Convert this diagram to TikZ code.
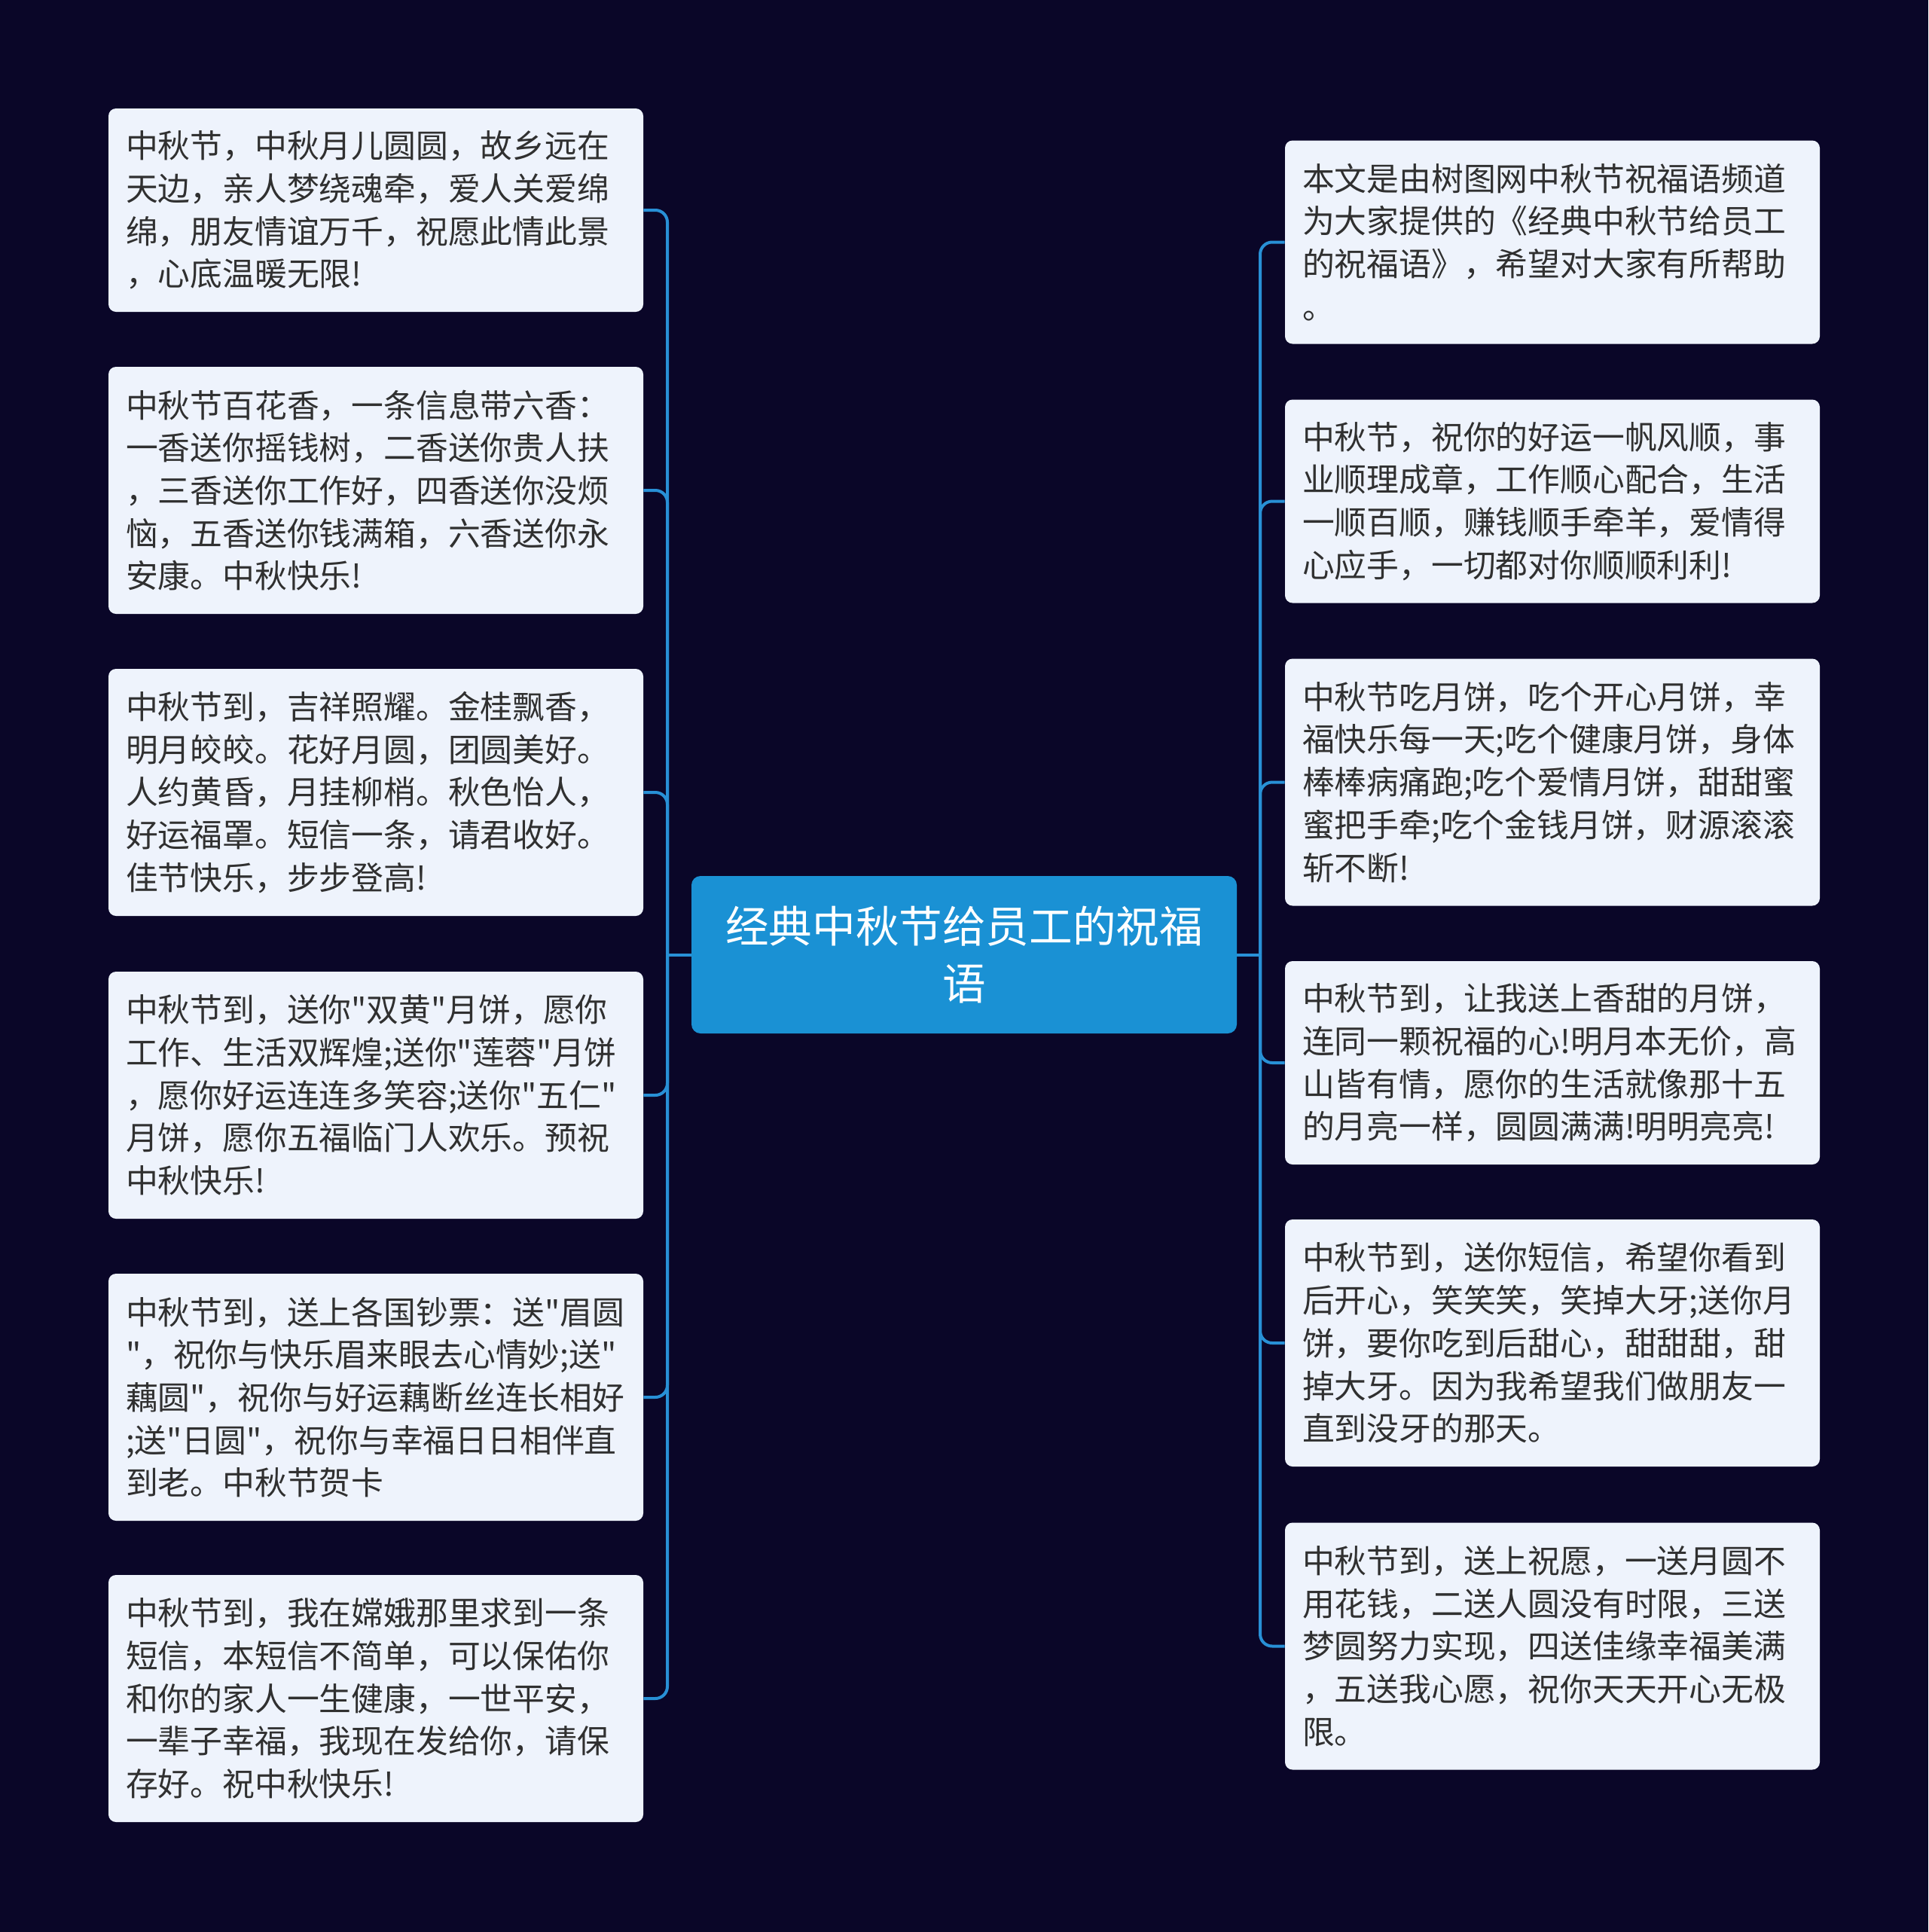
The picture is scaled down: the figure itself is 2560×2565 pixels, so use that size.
\documentclass[tikz,border=0pt]{standalone}
\usepackage{fontspec}
\setmainfont{Noto Sans CJK SC}[Ligatures=TeXOff]
\definecolor{bgc}{RGB}{10,6,40}
\definecolor{boxc}{RGB}{238,243,252}
\definecolor{centc}{RGB}{26,145,212}
\definecolor{linec}{RGB}{40,144,214}
\definecolor{txtc}{RGB}{48,48,48}
\begin{document}
\begin{tikzpicture}[x=0.5pt,y=-0.5pt,
  leaf/.style={fill=boxc, draw=none, rounded corners=5pt, text=txtc,
    text width=332pt, inner xsep=11.5pt, inner ysep=0pt, align=left,
    minimum width=355pt, font=\fontsize{21.4pt}{28.35pt}\selectfont},
  four/.style={minimum height=135pt},
  five/.style={minimum height=164pt},
  root/.style={fill=centc, draw=none, rounded corners=6pt, text=white,
    minimum width=362pt, minimum height=104.5pt, align=center,
    font=\fontsize{28.8pt}{38pt}\selectfont},
  conn/.style={draw=linec, line width=2pt, rounded corners=8pt}]
\fill[bgc] (0,0) rectangle (2560,2565);
\useasboundingbox (0,0) rectangle (2560,2565);

\node[root] (C) at (1280,1267.5) {经典中秋节给员工的祝福\\语};

\node[leaf,four] (L1) at (499,279) {中秋节，中秋月儿圆圆，故乡远在\\天边，亲人梦绕魂牵，爱人关爱绵\\绵，朋友情谊万千，祝愿此情此景\\，心底温暖无限!};
\node[leaf,five] (L2) at (499,651) {中秋节百花香，一条信息带六香：\\一香送你摇钱树，二香送你贵人扶\\，三香送你工作好，四香送你没烦\\恼，五香送你钱满箱，六香送你永\\安康。中秋快乐!};
\node[leaf,five] (L3) at (499,1052) {中秋节到，吉祥照耀。金桂飘香，\\明月皎皎。花好月圆，团圆美好。\\人约黄昏，月挂柳梢。秋色怡人，\\好运福罩。短信一条，请君收好。\\佳节快乐，步步登高!};
\node[leaf,five] (L4) at (499,1454) {中秋节到，送你"双黄"月饼，愿你\\工作、生活双辉煌;送你"莲蓉"月饼\\，愿你好运连连多笑容;送你"五仁"\\月饼，愿你五福临门人欢乐。预祝\\中秋快乐!};
\node[leaf,five] (L5) at (499,1855) {中秋节到，送上各国钞票：送"眉圆\\"，祝你与快乐眉来眼去心情妙;送"\\藕圆"，祝你与好运藕断丝连长相好\\;送"日圆"，祝你与幸福日日相伴直\\到老。中秋节贺卡};
\node[leaf,five] (L6) at (499,2255) {中秋节到，我在嫦娥那里求到一条\\短信，本短信不简单，可以保佑你\\和你的家人一生健康，一世平安，\\一辈子幸福，我现在发给你，请保\\存好。祝中秋快乐!};

\node[leaf,four] (R1) at (2061,321.5) {本文是由树图网中秋节祝福语频道\\为大家提供的《经典中秋节给员工\\的祝福语》，希望对大家有所帮助\\。};
\node[leaf,four] (R2) at (2061,665.5) {中秋节，祝你的好运一帆风顺，事\\业顺理成章，工作顺心配合，生活\\一顺百顺，赚钱顺手牵羊，爱情得\\心应手，一切都对你顺顺利利!};
\node[leaf,five] (R3) at (2061,1038.5) {中秋节吃月饼，吃个开心月饼，幸\\福快乐每一天;吃个健康月饼，身体\\棒棒病痛跑;吃个爱情月饼，甜甜蜜\\蜜把手牵;吃个金钱月饼，财源滚滚\\斩不断!};
\node[leaf,four] (R4) at (2061,1411) {中秋节到，让我送上香甜的月饼，\\连同一颗祝福的心!明月本无价，高\\山皆有情，愿你的生活就像那十五\\的月亮一样，圆圆满满!明明亮亮!};
\node[leaf,five] (R5) at (2061,1783) {中秋节到，送你短信，希望你看到\\后开心，笑笑笑，笑掉大牙;送你月\\饼，要你吃到后甜心，甜甜甜，甜\\掉大牙。因为我希望我们做朋友一\\直到没牙的那天。};
\node[leaf,five] (R6) at (2061,2185.5) {中秋节到，送上祝愿，一送月圆不\\用花钱，二送人圆没有时限，三送\\梦圆努力实现，四送佳缘幸福美满\\，五送我心愿，祝你天天开心无极\\限。};

\coordinate (LJ) at (886,1267.5);
\coordinate (RJ) at (1673,1267.5);
\draw[conn] (C.west) -- (LJ);
\draw[conn] (C.east) -- (RJ);
\foreach \n in {L1,L2,L3,L4,L5,L6} \draw[conn] (LJ) |- (\n.east);
\foreach \n in {R1,R2,R3,R4,R5,R6} \draw[conn] (RJ) |- (\n.west);
\end{tikzpicture}
\end{document}
